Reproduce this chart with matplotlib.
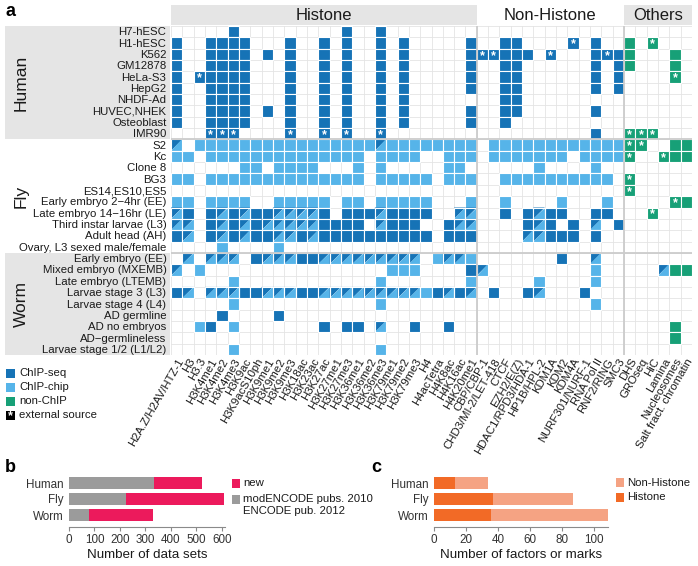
import matplotlib
matplotlib.use("Agg")
import matplotlib.pyplot as plt
from matplotlib.patches import Rectangle, Polygon

plt.rcParams['font.family'] = ['Liberation Sans', 'DejaVu Sans']

# ---------------- data ----------------
histone_marks = ["H2A.Z/H2AV/HTZ-1", "H3", "H3.3", "H3K4me1", "H3K4me2", "H3K4me3", "H3K9ac",
                 "H3K9acS10ph", "H3K9me1", "H3K9me2", "H3K9me3", "H3K18ac", "H3K23ac", "H3K27ac",
                 "H3K27me1", "H3K27me3", "H3K36me1", "H3K36me2", "H3K36me3", "H3K79me1",
                 "H3K79me2", "H3K79me3", "H4", "H4acTetra", "H4K8ac", "H4K16ac", "H4K20me1"]
nonhistone_factors = ["CBP/CBP-1", "CHD3/MI-2/LET-418", "CTCF", "EZH2/E(Z)", "HDAC1/RPD3/HDA-1",
                      "HP1B/HPL-2", "KDM1A", "KDM2", "KDM4A", "NURF301/NURF-1", "RNA Pol II",
                      "RNF2/RING", "SMC3"]
other_assays = ["DHS", "GROseq", "HiC", "Lamina", "Nucleosomes", "Salt fract. chromatin"]
group_names = ["Histone", "Non-Histone", "Others"]
species_names = ["Human", "Fly", "Worm"]

# cell codes: '.' none, 'S' ChIP-seq, 'C' ChIP-chip, 'B' ChIP-seq + ChIP-chip,
# 'N' non-ChIP; lower case ('s', 'n') = external source.  histone|non-histone|others
human_samples = ["H7-hESC", "H1-hESC", "K562", "GM12878", "HeLa-S3", "HepG2", "NHDF-Ad",
                 "HUVEC,NHEK", "Osteoblast", "IMR90"]
human_cells = [
    ".....S.........S..S........|.............|......",
    "S..SSSS...S..S.S..S.S.....S|..SS....s.S..|N.n...",
    "S..SSSS.S.S..S.S..S.S.....S|ssSSS.s...SsS|N...N.",
    "S..SSSS...S..S.S..S.S.....S|..SS......S.S|N...N.",
    "S.sSSSS...S..S.S..S.S.....S|..SS......S.S|....n.",
    "S..SSSS...S..S.S..S.S.....S|..SS......S.S|......",
    "S..SSSS...S..S.S..S.S......|..SS.........|......",
    "S..SSSS.S.S..S.S..S.S.....S|..SS......S..|......",
    "S..SSSS...S..S.S..S.S.....S|..S..........|......",
    "...sss....s..s.s..s........|..........S..|nnn...",
]
fly_samples = ["S2", "Kc", "Clone 8", "BG3", "ES14,ES10,ES5", "Early embryo 2\u22124hr (EE)",
               "Late embryo 14\u221216hr (LE)", "Third instar larvae (L3)", "Adult head (AH)",
               "Ovary, L3 sexed male/female"]
fly_cells = [
    "B.CCCCCCCCCCCCCCCCBCCCCCCCC|.CCCCCCCCCCCC|nn..NN",
    "CC.CCCCCCCCCCCCCC.CCCC..CCC|.CCCCCCC.CCCC|n..nNN",
    "......CC.CCCC...C.C.....CC.|.....C....C..|......",
    "CC.CCCCCCCCCCCCCC.CCCCC.CCC|..CCCCCCCCCC.|n.....",
    "...........................|.............|n.....",
    "CC.CCCC..CCCCC.CC.CCCCC...C|..C....C...C.|....nN",
    "BS.SBSBSSBBBBS.SSSBSSSS..BB|..S.SBSS..SS.|..n...",
    "BB.SBSBSBBBBBSSSS.BSSS..SBB|....SBS.S.B.S|......",
    "SB.SBSBSSBBSBSSSSSSSSSS.SSS|....BBSSS.S..|......",
    "....C....C.................|.............|......",
]
worm_samples = ["Early embryo (EE)", "Mixed embryo (MXEMB)", "Late embryo (LTEMB)",
                "Larvae stage 3 (L3)", "Larvae stage 4 (L4)", "AD germline", "AD no embryos",
                "AD\u2212germlineless", "Larvae stage 1/2 (L1/L2)"]
worm_cells = [
    ".B.BBB.SBBBSSBBBBBBBBB.CBBC|.......S..B..|......",
    "B.C................CCC....S|B.........C..|...BNN",
    ".....C............C.......C|.....C....C..|......",
    "SB.BBBSSBBBSSBBBBBBBBBCSBSB|.S..SB...S...|......",
    ".....C............C........|..........C..|......",
    "....S....S.................|.............|......",
    "..CS.C.......S.SS.B..S..S..|.............|....N.",
    "...........................|.............|....N.",
    ".....C............C........|.............|......",
]

# panel b: number of data sets
prev_sets = [335, 225, 80]      # modENCODE pubs. 2010 / ENCODE pub. 2012
new_sets = [185, 385, 250]
# panel c: number of factors or marks
histone_counts = [13, 37, 36]
nonhistone_counts = [21, 50, 73]

# ---------------- style ----------------
DARK = '#1673B6'
LIGHT = '#56B4E9'
GREEN = '#17A077'
PINK = '#EC1A5C'
GREY = '#9B9B9B'
ORANGE = '#F26A26'
SALMON = '#F5A383'
STRIP = '#E5E5E5'
GRIDC = '#E4E4E4'
SEPC = '#CCCCCC'

W, H = 698, 566
fig = plt.figure(figsize=(W / 100, H / 100), dpi=100)


def px_axes(x0, y0, x1, y1):
    return fig.add_axes([x0 / W, 1 - y1 / H, (x1 - x0) / W, (y1 - y0) / H])


columns = histone_marks + nonhistone_factors + other_assays
ncol = len(columns)
groups_rows = [(human_samples, human_cells), (fly_samples, fly_cells), (worm_samples, worm_cells)]
all_rows = []
for samples, cells in groups_rows:
    for name, code in zip(samples, cells):
        s = code.replace('|', '')
        assert len(s) == ncol, (name, len(s))
        all_rows.append((name, s))
nrow = len(all_rows)

ax = px_axes(171, 26, 692, 355)
ax.set_xlim(0, ncol)
ax.set_ylim(nrow, 0)
ax.axis('off')

# grid lines
for i in range(ncol + 1):
    ax.plot([i, i], [0, nrow], color=GRIDC, lw=0.6, zorder=1)
for j in range(nrow + 1):
    ax.plot([0, ncol], [j, j], color=GRIDC, lw=0.6, zorder=1)

# cells
for r, (name, s) in enumerate(all_rows):
    for c, ch in enumerate(s):
        if ch == '.':
            continue
        up = ch.upper()
        if up == 'B':
            ax.add_patch(Polygon([(c, r), (c + 1, r), (c, r + 1)], closed=True,
                                 fc=DARK, ec='none', zorder=3))
            ax.add_patch(Polygon([(c + 1, r), (c + 1, r + 1), (c, r + 1)], closed=True,
                                 fc=LIGHT, ec='none', zorder=3))
            ax.add_patch(Rectangle((c, r), 1, 1, fc='none', ec='white', lw=0.8, zorder=4))
        else:
            col = {'S': DARK, 'C': LIGHT, 'N': GREEN}[up]
            ax.add_patch(Rectangle((c, r), 1, 1, fc=col, ec='white', lw=0.8, zorder=3))
        if ch.islower():
            ax.text(c + 0.5, r + 0.62, '*', color='white', ha='center', va='center',
                    fontsize=9, fontweight='bold', zorder=5)

# group separators
bounds = [len(histone_marks), len(histone_marks) + len(nonhistone_factors)]
for b in bounds:
    ax.plot([b, b], [0, nrow], color=SEPC, lw=1.3, zorder=6)
rb = [len(human_samples), len(human_samples) + len(fly_samples)]
for b in rb:
    ax.plot([0, ncol], [b, b], color=SEPC, lw=1.3, zorder=6)

# top strips
gstarts = [0, bounds[0], bounds[1]]
gends = [bounds[0], bounds[1], ncol]
for k, (g0, g1, gname) in enumerate(zip(gstarts, gends, group_names)):
    fc = STRIP if k != 1 else 'white'
    ax.add_patch(Rectangle((g0, -1.85), g1 - g0, 1.78, fc=fc, ec='none', clip_on=False))
    ax.text((g0 + g1) / 2, -0.93, gname, ha='center', va='center', fontsize=12, color='#1a1a1a')

# left strips + row labels
rstart = 0
for k, (samples, cells) in enumerate(groups_rows):
    n = len(samples)
    if k != 1:
        ax.add_patch(Rectangle((-14.65, rstart), 14.6, n, fc=STRIP, ec='none', clip_on=False,
                               zorder=0))
    ax.text(-13.25, rstart + n / 2, species_names[k], rotation=90, ha='center', va='center',
            fontsize=12.5, color='#1a1a1a')
    for i, name in enumerate(samples):
        ax.text(-0.4, rstart + i + 0.55, name, ha='right', va='center', fontsize=8.2,
                color='#1a1a1a')
    rstart += n

# column labels
for c, name in enumerate(columns):
    ax.text(c + 0.5, nrow + 0.15, name, rotation=60, rotation_mode='anchor', ha='right',
            va='top', fontsize=8.2, color='#1a1a1a')

# background axes for legend / panel letters (pixel coords)
bg = fig.add_axes([0, 0, 1, 1], zorder=-1)
bg.set_xlim(0, W)
bg.set_ylim(H, 0)
bg.axis('off')

fig.text(5 / W, 1 - 12 / H, 'a', fontsize=13, fontweight='bold', va='center')
fig.text(5 / W, 1 - 468 / H, 'b', fontsize=13, fontweight='bold', va='center')
fig.text(371 / W, 1 - 468 / H, 'c', fontsize=13, fontweight='bold', va='center')

leg_items = [("ChIP-seq", DARK, False), ("ChIP-chip", LIGHT, False), ("non-ChIP", GREEN, False),
             ("external source", 'black', True)]
for i, (lab, col, star) in enumerate(leg_items):
    yc = 373 + 14 * i
    bg.add_patch(Rectangle((5.5, yc - 4.5), 9, 9, fc=col, ec='none'))
    if star:
        bg.text(10, yc + 1.5, '*', color='white', ha='center', va='center', fontsize=9,
                fontweight='bold')
    bg.text(19, yc, lab, ha='left', va='center', fontsize=8.2, color='#1a1a1a')

# ---------------- panel b ----------------
ypos = [2, 1, 0]
axb = px_axes(69, 475, 225, 527)
axb.barh(ypos, prev_sets, height=0.7, color=GREY)
axb.barh(ypos, new_sets, left=prev_sets, height=0.7, color=PINK)
axb.set_xlim(0, 612)
axb.set_ylim(-0.75, 2.5)
axb.set_yticks(ypos)
axb.set_yticklabels(species_names)
axb.set_xticks([0, 100, 200, 300, 400, 500, 600])
axb.set_xlabel("Number of data sets", fontsize=9.6, labelpad=2, color='#1a1a1a')

# ---------------- panel c ----------------
axc = px_axes(434, 475, 608, 527)
axc.barh(ypos, histone_counts, height=0.7, color=ORANGE)
axc.barh(ypos, nonhistone_counts, left=histone_counts, height=0.7, color=SALMON)
axc.set_xlim(0, 109)
axc.set_ylim(-0.75, 2.5)
axc.set_yticks(ypos)
axc.set_yticklabels(species_names)
axc.set_xticks([0, 20, 40, 60, 80, 100])
axc.set_xlabel("Number of factors or marks", fontsize=9.6, labelpad=2, color='#1a1a1a')

for a in (axb, axc):
    for sp in ('top', 'right', 'left'):
        a.spines[sp].set_visible(False)
    a.spines['bottom'].set_color('#8a8a8a')
    a.spines['bottom'].set_linewidth(0.8)
    a.tick_params(axis='x', length=3, color='#8a8a8a', labelsize=8.4, pad=2,
                  labelcolor='#333333')
    a.tick_params(axis='y', length=0, labelsize=8.4, pad=4, labelcolor='#333333')
    a.set_facecolor('none')

# legends b, c
bg.add_patch(Rectangle((232, 478.5), 8, 9, fc=PINK, ec='none'))
bg.text(243, 483, "new", ha='left', va='center', fontsize=8.2, color='#1a1a1a')
bg.add_patch(Rectangle((232, 494.5), 8, 9, fc=GREY, ec='none'))
bg.text(243, 499, "modENCODE pubs. 2010", ha='left', va='center', fontsize=8.2, color='#1a1a1a')
bg.text(243, 511, "ENCODE pub. 2012", ha='left', va='center', fontsize=8.2, color='#1a1a1a')

bg.add_patch(Rectangle((616, 478), 8, 9, fc=SALMON, ec='none'))
bg.text(627, 482.5, "Non-Histone", ha='left', va='center', fontsize=8.2, color='#1a1a1a')
bg.add_patch(Rectangle((616, 493), 8, 9, fc=ORANGE, ec='none'))
bg.text(627, 497.5, "Histone", ha='left', va='center', fontsize=8.2, color='#1a1a1a')

fig.savefig("out.png", dpi=100)
